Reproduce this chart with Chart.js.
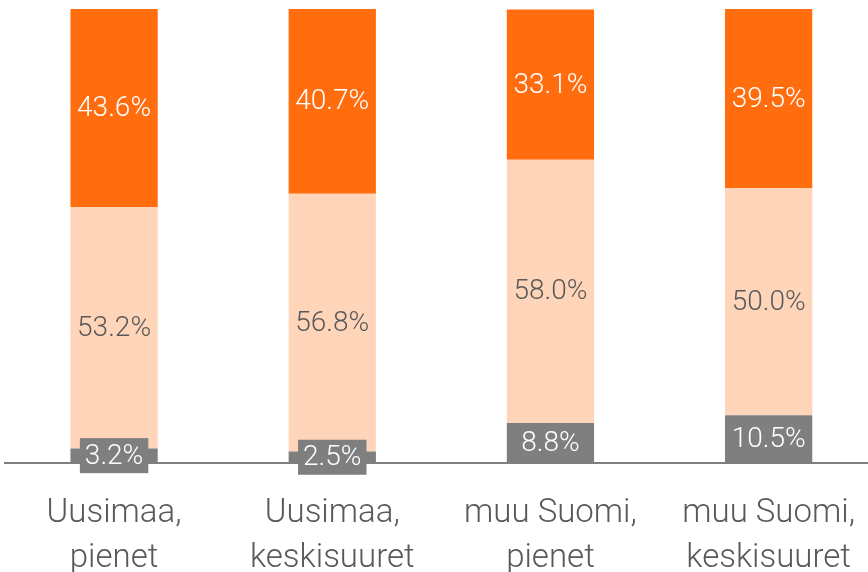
<!DOCTYPE html>
<html>
<head>
<meta charset="utf-8">
<script src="https://cdn.jsdelivr.net/npm/chart.js@4"></script>
<style>
  html, body { margin: 0; padding: 0; background: #fff; overflow: hidden; }
  #wrap { position: relative; width: 883px; height: 610px; }
</style>
</head>
<body>
<div id="wrap"><canvas id="barChart"></canvas></div>
<script>
// Data
const categories = [
  ['Uusimaa,', 'pienet'],
  ['Uusimaa,', 'keskisuuret'],
  ['muu Suomi,', 'pienet'],
  ['muu Suomi,', 'keskisuuret']
];
const bottomValues = [3.2, 2.5, 8.8, 10.5];
const middleValues = [53.2, 56.8, 58.0, 50.0];
const topValues = [43.6, 40.7, 33.1, 39.5];

const FONT = 'Roboto, "Open Sans", sans-serif';

// Draws the value labels inside each segment, with a box behind small ones
const segmentLabels = {
  id: 'segmentLabels',
  afterDatasetsDraw(chart) {
    const ctx = chart.ctx;
    ctx.save();
    ctx.font = '300 28px ' + FONT;
    ctx.textAlign = 'center';
    ctx.textBaseline = 'middle';
    chart.data.datasets.forEach((ds, di) => {
      const meta = chart.getDatasetMeta(di);
      meta.data.forEach((bar, i) => {
        const v = ds.data[i];
        const text = v.toFixed(1) + '%';
        const yMid = (bar.y + bar.base) / 2;
        const h = Math.abs(bar.base - bar.y);
        if (h < 30) {
          const w = ctx.measureText(text).width + 10;
          ctx.fillStyle = ds.backgroundColor;
          ctx.fillRect(bar.x - w / 2, yMid - 17.5, w, 35);
        }
        ctx.fillStyle = ds.labelColor;
        ctx.fillText(text, bar.x, yMid + 1);
      });
    });
    ctx.restore();
  }
};

const ctx = document.getElementById('barChart').getContext('2d');
const barChart = new Chart(ctx, {
  type: 'bar',
  data: {
    labels: categories,
    datasets: [
      {
        label: 'alaosa',
        data: bottomValues,
        backgroundColor: '#7f7f7f',
        labelColor: '#ffffff'
      },
      {
        label: 'keskiosa',
        data: middleValues,
        backgroundColor: '#ffd5ba',
        labelColor: '#595959'
      },
      {
        label: 'yläosa',
        data: topValues,
        backgroundColor: '#ff6d0f',
        labelColor: '#ffffff'
      }
    ]
  },
  options: {
    responsive: true,
    maintainAspectRatio: false,
    animation: false,
    barPercentage: 0.4,
    categoryPercentage: 1,
    layout: { padding: { left: 5, top: 9, right: 0, bottom: 0 } },
    plugins: {
      legend: { display: false },
      tooltip: { enabled: false }
    },
    scales: {
      x: {
        stacked: true,
        grid: { display: false, drawTicks: false },
        border: { display: true, color: '#7f7f7f', width: 2 },
        ticks: {
          color: '#595959',
          padding: 28,
          maxRotation: 0,
          font: { family: FONT, size: 33, weight: '300', lineHeight: 1.38 }
        }
      },
      y: {
        stacked: true,
        display: false,
        min: 0,
        max: 100
      }
    }
  },
  plugins: [segmentLabels]
});
</script>
</body>
</html>
